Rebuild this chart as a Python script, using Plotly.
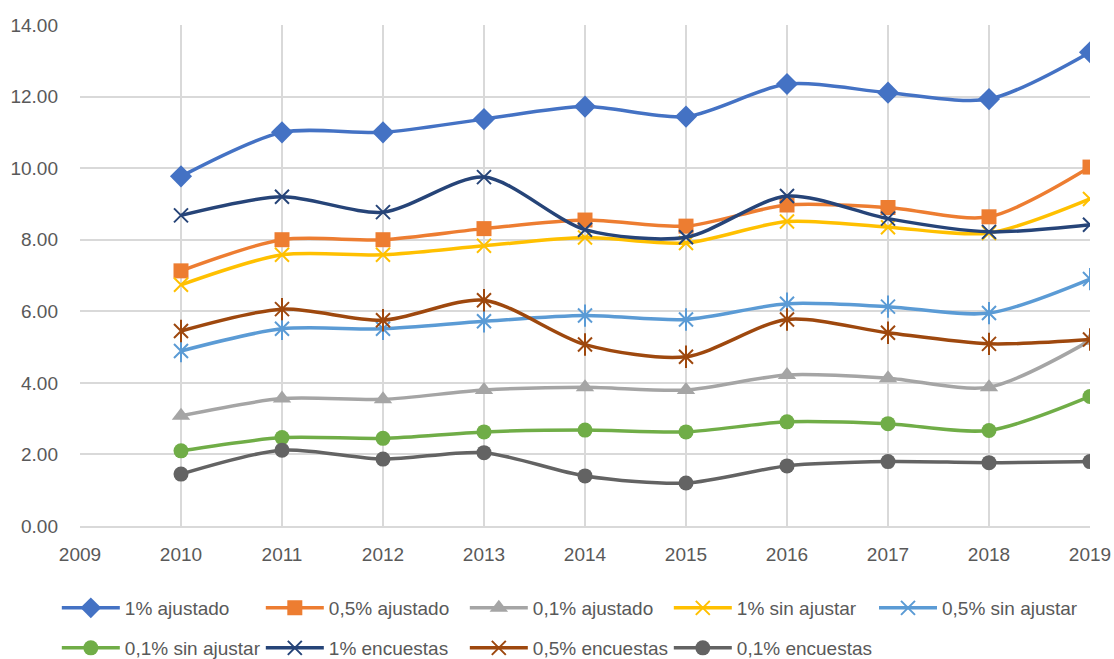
import plotly.graph_objects as go

years = [2010, 2011, 2012, 2013, 2014, 2015, 2016, 2017, 2018, 2019]

s_1_aj = [9.77, 11.00, 11.00, 11.37, 11.72, 11.44, 12.35, 12.11, 11.93, 13.24]
s_05_aj = [7.13, 8.00, 8.00, 8.31, 8.55, 8.38, 8.97, 8.90, 8.64, 10.03]
s_01_aj = [3.08, 3.56, 3.54, 3.80, 3.88, 3.80, 4.22, 4.13, 3.88, 5.18]
s_1_sa = [6.74, 7.58, 7.58, 7.83, 8.06, 7.91, 8.51, 8.35, 8.19, 9.14]
s_05_sa = [4.89, 5.51, 5.51, 5.72, 5.88, 5.77, 6.21, 6.13, 5.95, 6.90]
s_01_sa = [2.10, 2.47, 2.45, 2.63, 2.68, 2.63, 2.91, 2.86, 2.67, 3.62]
s_1_en = [8.68, 9.20, 8.77, 9.75, 8.28, 8.07, 9.22, 8.59, 8.22, 8.42]
s_05_en = [5.45, 6.06, 5.75, 6.31, 5.07, 4.73, 5.77, 5.40, 5.09, 5.21]
s_01_en = [1.45, 2.12, 1.87, 2.05, 1.40, 1.20, 1.68, 1.80, 1.77, 1.80]

y_ticks = [0, 2, 4, 6, 8, 10, 12, 14]
x_ticks = [2009, 2010, 2011, 2012, 2013, 2014, 2015, 2016, 2017, 2018, 2019]

# name, values, colour, symbol, size, star overlay, legend slot
series = [
    ("1% ajustado", s_1_aj, "#4472C4", "diamond", 17, False, "legend"),
    ("0,5% ajustado", s_05_aj, "#ED7D31", "square", 15, False, "legend"),
    ("0,1% ajustado", s_01_aj, "#A5A5A5", "triangle-up", 16, False, "legend"),
    ("1% sin ajustar", s_1_sa, "#FFC000", "x-thin-open", 14, False, "legend"),
    ("0,5% sin ajustar", s_05_sa, "#5B9BD5", "x-thin-open", 14, True, "legend3"),
    ("0,1% sin ajustar", s_01_sa, "#70AD47", "circle", 15, False, "legend2"),
    ("1% encuestas", s_1_en, "#264478", "x-thin-open", 14, False, "legend2"),
    ("0,5% encuestas", s_05_en, "#9E480E", "x-thin-open", 14, True, "legend2"),
    ("0,1% encuestas", s_01_en, "#636363", "circle", 15, False, "legend2"),
]

fig = go.Figure()
for name, vals, color, sym, size, star, leg in series:
    open_sym = sym.endswith("open")
    fig.add_trace(go.Scatter(
        x=years, y=vals, name=name, mode="lines+markers", legend=leg,
        line=dict(color=color, width=3.5, shape="spline", smoothing=0.8),
        marker=dict(symbol=sym, size=size, color=color,
                    line=dict(color=color, width=2 if open_sym else 0)),
    ))
    if star:
        fig.add_trace(go.Scatter(
            x=years, y=vals, mode="markers", showlegend=False, hoverinfo="skip",
            marker=dict(symbol="line-ns-open", size=size + 2, color=color,
                        line=dict(color=color, width=2)),
        ))

font_family = "Liberation Sans, Arial"
leg_common = dict(orientation="h", xanchor="left", yanchor="top",
                  xref="container", yref="container",
                  itemwidth=58,
                  entrywidth=131, entrywidthmode="pixels",
                  font=dict(family=font_family, size=19, color="#595959"),
                  bgcolor="rgba(0,0,0,0)")

fig.update_layout(
    width=1114, height=659,
    margin=dict(l=80, r=24, t=25, b=133, autoexpand=False),
    paper_bgcolor="white", plot_bgcolor="white",
    font=dict(family=font_family, size=19, color="#595959"),
    xaxis=dict(range=[2009, 2019], tickvals=x_ticks, ticktext=[str(v) for v in x_ticks],
               showgrid=True, gridcolor="#D9D9D9", gridwidth=1.5,
               showline=True, linecolor="#D9D9D9", linewidth=1.5,
               zeroline=False, ticks="", automargin=False, ticklabelstandoff=10,
               tickfont=dict(size=19, color="#595959")),
    yaxis=dict(range=[0, 14], tickvals=y_ticks, tickformat=".2f",
               showgrid=True, gridcolor="#D9D9D9", gridwidth=1.5,
               showline=False, zeroline=False, ticks="", automargin=False,
               ticklabelstandoff=21,
               tickfont=dict(size=19, color="#595959")),
    legend=dict(x=0.051, y=1 - 589 / 659, **leg_common),
    legend3=dict(x=874 / 1114, y=1 - 589 / 659, **leg_common),
    legend2=dict(x=0.051, y=1 - 629 / 659, **leg_common),
    showlegend=True,
)

fig.write_html("out.html", config={"displayModeBar": False},
               post_script="document.body.style.margin='0';document.body.style.overflow='hidden';")
